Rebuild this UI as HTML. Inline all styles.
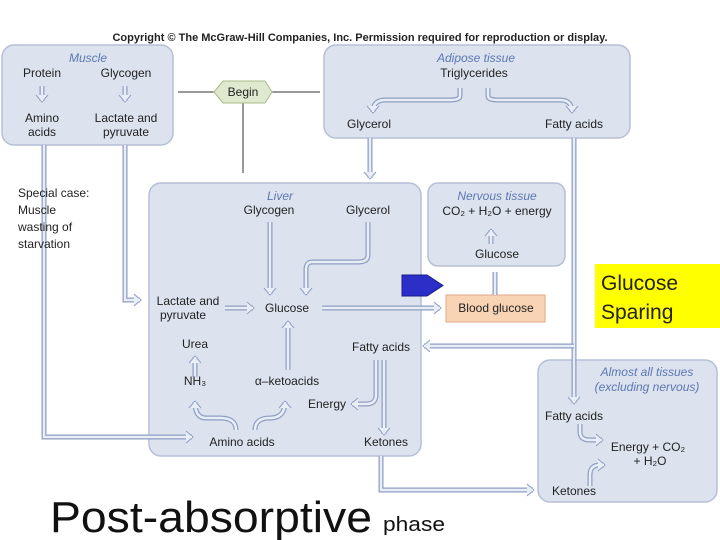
<!DOCTYPE html>
<html><head><style>
body{margin:0;background:#fff;}
svg{display:block;font-family:"Liberation Sans",sans-serif;}
.bx{fill:#dce2ee;stroke:#b5c0d6;stroke-width:1.5;}
.t{font-size:12px;fill:#222;text-anchor:middle;}
.ti{font-size:12px;fill:#5b78b2;font-style:italic;text-anchor:middle;}
.p{fill:none;stroke:#8e9fc4;stroke-width:5;}
.pi{fill:none;stroke:#e8edf6;stroke-width:2.5;}
.s{fill:none;stroke:#8e9fc4;stroke-width:1.2;}
</style></head><body>
<svg width="720" height="540" viewBox="0 0 720 540">
<defs>
<marker id="a" markerUnits="userSpaceOnUse" markerWidth="14" markerHeight="14" refX="7" refY="7" orient="auto"><path d="M1,1 L8,7 L1,13" fill="#e8edf6" stroke="#8e9fc4" stroke-width="1"/></marker>
</defs>
<text x="360" y="41" font-size="11" font-weight="bold" text-anchor="middle" fill="#222">Copyright © The McGraw-Hill Companies, Inc. Permission required for reproduction or display.</text>
<line x1="178" y1="92" x2="320" y2="92" stroke="#333" stroke-width="1"/>
<line x1="243" y1="100" x2="243" y2="173" stroke="#333" stroke-width="1"/>
<rect class="bx" x="2" y="45" width="171" height="100" rx="12"/>
<rect class="bx" x="324" y="45" width="306" height="93" rx="12"/>
<rect class="bx" x="149" y="183" width="272" height="273" rx="12"/>
<rect class="bx" x="428" y="183" width="137" height="83" rx="10"/>
<rect class="bx" x="538" y="360" width="179" height="142" rx="12"/>
<rect x="446" y="295" width="99" height="27" fill="#f8d3b4" stroke="#e0a983"/>
<polygon points="214,92 223,81 265,81 272,92 265,103 223,103" fill="#dfe9cf" stroke="#a9bb88"/>
<text class="t" x="243" y="96">Begin</text>
<g>
<path class="p" d="M44,145 V437 H192" marker-end="url(#a)"/><path class="pi" d="M44,145 V437 H192"/>
<path class="p" d="M125,145 V300 H140" marker-end="url(#a)"/><path class="pi" d="M125,145 V300 H140"/>
<path class="p" d="M370,138 V178" marker-end="url(#a)"/><path class="pi" d="M370,138 V178"/>
<path class="p" d="M574,138 V403" marker-end="url(#a)"/><path class="pi" d="M574,138 V403"/>
<path class="p" d="M574,346 H424" marker-end="url(#a)"/><path class="pi" d="M574,346 H424"/>
<path class="p" d="M225,308 H253" marker-end="url(#a)"/><path class="pi" d="M225,308 H253"/>
<path class="p" d="M322,308 H440" marker-end="url(#a)"/><path class="pi" d="M322,308 H440"/>
<path class="p" d="M288,370 V322" marker-end="url(#a)"/><path class="pi" d="M288,370 V322"/>
<path class="p" d="M270,222 V294" marker-end="url(#a)"/><path class="pi" d="M270,222 V294"/>
<path class="p" d="M368,222 V255 Q368,262 358,262 H312 Q306,262 306,270 V294" marker-end="url(#a)"/><path class="pi" d="M368,222 V255 Q368,262 358,262 H312 Q306,262 306,270 V294"/>
<path class="p" d="M384,360 V434" marker-end="url(#a)"/><path class="pi" d="M384,360 V434"/>
<path class="p" d="M376,360 V395 Q376,404 366,404 H352" marker-end="url(#a)"/><path class="pi" d="M376,360 V395 Q376,404 366,404 H352"/>
<path class="p" d="M236,430 Q236,418 220,418 H206 Q195,418 195,402" marker-end="url(#a)"/><path class="pi" d="M236,430 Q236,418 220,418 H206 Q195,418 195,402"/>
<path class="p" d="M255,430 Q255,418 270,418 Q285,418 285,402" marker-end="url(#a)"/><path class="pi" d="M255,430 Q255,418 270,418 Q285,418 285,402"/>
<path class="p" d="M195,377 V357" marker-end="url(#a)"/><path class="pi" d="M195,377 V357"/>
<path class="p" d="M381,456 V490 H533" marker-end="url(#a)"/><path class="pi" d="M381,456 V490 H533"/>
<path class="p" d="M495,295 V272"/><path class="pi" d="M495,295 V272"/>
<path class="p" d="M460,88 V96 Q460,100 450,100 H385 Q373,100 373,112" marker-end="url(#a)"/><path class="pi" d="M460,88 V96 Q460,100 450,100 H385 Q373,100 373,112"/>
<path class="p" d="M488,88 V96 Q488,100 498,100 H560 Q572,100 572,112" marker-end="url(#a)"/><path class="pi" d="M488,88 V96 Q488,100 498,100 H560 Q572,100 572,112"/>
<path class="p" d="M580,424 V432 Q580,440 590,440 H602" marker-end="url(#a)"/><path class="pi" d="M580,424 V432 Q580,440 590,440 H602"/>
<path class="p" d="M590,486 V475 Q590,465 600,465 H604" marker-end="url(#a)"/><path class="pi" d="M590,486 V475 Q590,465 600,465 H604"/>
<path class="p" d="M42,86 V101" marker-end="url(#a)"/><path class="pi" d="M42,86 V101"/>
<path class="p" d="M125,86 V101" marker-end="url(#a)"/><path class="pi" d="M125,86 V101"/>
<path class="p" d="M491,244 V230" marker-end="url(#a)"/><path class="pi" d="M491,244 V230"/>
</g>
<text class="ti" x="88" y="62">Muscle</text>
<text class="t" x="42" y="77">Protein</text>
<text class="t" x="126" y="77">Glycogen</text>
<text class="t" x="42" y="122">Amino</text><text class="t" x="42" y="136">acids</text>
<text class="t" x="126" y="122">Lactate and</text><text class="t" x="126" y="136">pyruvate</text>
<text class="ti" x="476" y="62">Adipose tissue</text>
<text class="t" x="474" y="77">Triglycerides</text>
<text class="t" x="369" y="128">Glycerol</text>
<text class="t" x="574" y="128">Fatty acids</text>
<text x="18" y="197" font-size="12" fill="#222">Special case:</text>
<text x="18" y="214" font-size="12" fill="#222">Muscle</text>
<text x="18" y="231" font-size="12" fill="#222">wasting of</text>
<text x="18" y="248" font-size="12" fill="#222">starvation</text>
<text class="ti" x="280" y="200">Liver</text>
<text class="t" x="269" y="214">Glycogen</text>
<text class="t" x="368" y="214">Glycerol</text>
<text class="ti" x="497" y="200">Nervous tissue</text>
<text class="t" x="497" y="215">CO₂ + H₂O + energy</text>
<text class="t" x="497" y="258">Glucose</text>
<text class="t" x="188" y="305">Lactate and</text><text class="t" x="183" y="319">pyruvate</text>
<text class="t" x="287" y="312">Glucose</text>
<text class="t" x="496" y="312">Blood glucose</text>
<text class="t" x="195" y="348">Urea</text>
<text class="t" x="195" y="385">NH₃</text>
<text class="t" x="287" y="385">α–ketoacids</text>
<text class="t" x="381" y="351">Fatty acids</text>
<text class="t" x="327" y="408">Energy</text>
<text class="t" x="242" y="446">Amino acids</text>
<text class="t" x="386" y="446">Ketones</text>
<text class="ti" x="647" y="376">Almost all tissues</text>
<text class="ti" x="647" y="391">(excluding nervous)</text>
<text class="t" x="574" y="420">Fatty acids</text>
<text class="t" x="648" y="451">Energy + CO₂</text>
<text class="t" x="650" y="465">+ H₂O</text>
<text class="t" x="574" y="495">Ketones</text>
<polygon points="402,275 427,275 443,285.5 427,296 402,296" fill="#2b2fc8" stroke="#1a1d8a"/>
<rect x="595" y="264" width="125" height="64" fill="#ffff00"/>
<text x="601" y="290" font-size="21" fill="#222">Glucose</text>
<text x="601" y="319" font-size="21" fill="#222">Sparing</text>
<text x="50" y="532" font-size="44" fill="#111" textLength="322" lengthAdjust="spacingAndGlyphs">Post-absorptive</text>
<text x="383" y="531" font-size="20" fill="#111" textLength="62" lengthAdjust="spacingAndGlyphs">phase</text>
</svg>
</body></html>
